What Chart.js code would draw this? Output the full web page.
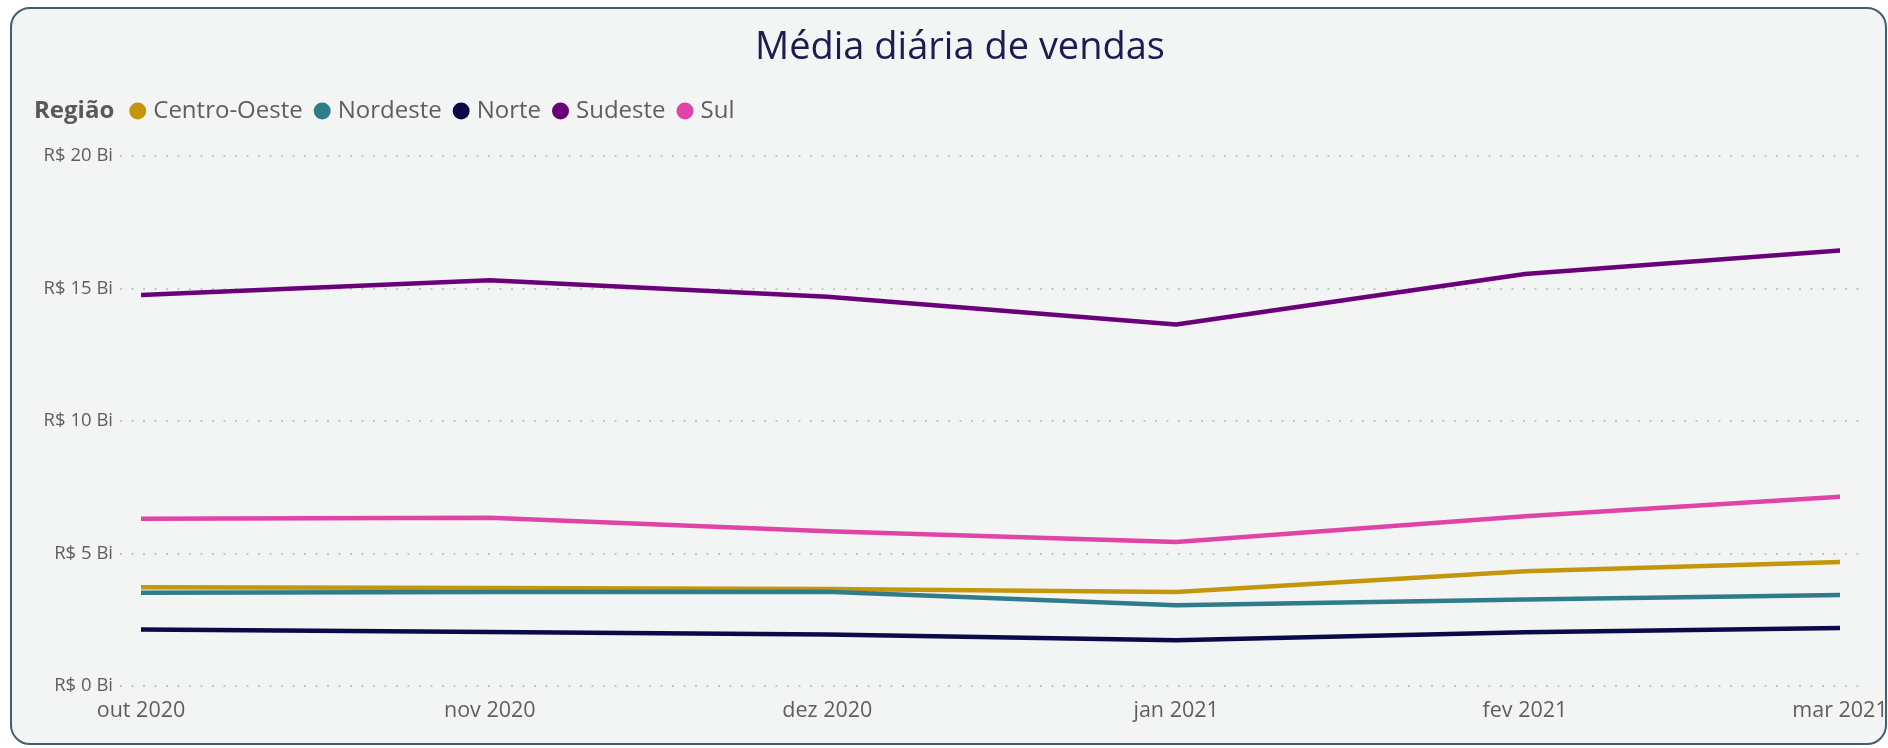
<!DOCTYPE html>
<html><head><meta charset="utf-8">
<script src="https://cdn.jsdelivr.net/npm/chart.js@4"></script>
<style>
html,body{margin:0;padding:0;background:#fff;width:1888px;height:748px;overflow:hidden}
#frame{position:absolute;left:10px;top:7px;width:1877px;height:738px;box-sizing:border-box;border:2.5px solid #40616a;border-radius:20px;background:#f3f4f4}
#c{position:absolute;left:0;top:0}
</style></head><body>
<div id="frame"></div>
<canvas id="c" width="1888" height="748"></canvas>
<script>
const chartTitle = 'Média diária de vendas';
const legendTitle = 'Região';
const months = ['out 2020','nov 2020','dez 2020','jan 2021','fev 2021','mar 2021'];
const monthStarts = ['2020-10-01','2020-11-01','2020-12-01','2021-01-01','2021-02-01','2021-03-01'];
const regions = ['Centro-Oeste','Nordeste','Norte','Sudeste','Sul'];
const colors = ['#c4960c','#2f7c8b','#0b0a48','#6b007b','#e044a7'];
const centroOeste = [3.73, 3.70, 3.66, 3.55, 4.33, 4.68];
const nordeste    = [3.52, 3.55, 3.56, 3.05, 3.26, 3.43];
const norte       = [2.13, 2.04, 1.94, 1.73, 2.03, 2.19];
const sudeste     = [14.75, 15.31, 14.69, 13.64, 15.55, 16.43];
const sul         = [6.31, 6.35, 5.84, 5.43, 6.41, 7.14];
const yTicks = [0, 5, 10, 15, 20];
const yTickLabels = ['R$ 0 Bi','R$ 5 Bi','R$ 10 Bi','R$ 15 Bi','R$ 20 Bi'];

const seriesValues = [centroOeste, nordeste, norte, sudeste, sul];
const dayOffsets = monthStarts.map(d => Math.round((Date.parse(d) - Date.parse(monthStarts[0])) / 86400000));
const FONT = '"Open Sans", "Noto Sans", sans-serif';

const gridPlugin = {
  id: 'dottedGrid',
  beforeDatasetsDraw(chart) {
    const ctx = chart.ctx, y = chart.scales.y;
    ctx.save();
    ctx.strokeStyle = '#c6c8c8';
    ctx.lineWidth = 2;
    ctx.setLineDash([2, 9.5]);
    yTicks.forEach(v => {
      const py = Math.round(y.getPixelForValue(v));
      ctx.beginPath();
      ctx.moveTo(120, py);
      ctx.lineTo(1864, py);
      ctx.stroke();
    });
    ctx.restore();
  }
};

const headerPlugin = {
  id: 'header',
  afterDraw(chart) {
    const ctx = chart.ctx;
    ctx.save();
    ctx.textBaseline = 'middle';
    ctx.textAlign = 'center';
    ctx.fillStyle = '#1b1d52';
    ctx.font = '38px ' + FONT;
    ctx.fillText(chartTitle, 960, 48);
    ctx.textAlign = 'left';
    const y = 111;
    const r = 8.5;
    let x = 34;
    ctx.font = 'bold 24px ' + FONT;
    ctx.fillStyle = '#595959';
    ctx.fillText(legendTitle, x, y);
    x += ctx.measureText(legendTitle).width + 15;
    ctx.font = '24px ' + FONT;
    chart.data.datasets.forEach(ds => {
      ctx.fillStyle = ds.borderColor;
      ctx.beginPath();
      ctx.arc(x + r, y, r, 0, Math.PI * 2);
      ctx.fill();
      x += r + 15.5;
      ctx.fillStyle = '#605e5c';
      ctx.fillText(ds.label, x, y);
      x += ctx.measureText(ds.label).width + 11;
    });
    ctx.restore();
  }
};

new Chart(document.getElementById('c'), {
  type: 'line',
  data: {
    datasets: regions.map((r, i) => ({
      label: r,
      data: seriesValues[i].map((v, j) => ({ x: dayOffsets[j], y: v })),
      borderColor: colors[i],
      backgroundColor: colors[i],
      borderWidth: 4.5,
      pointRadius: 0,
      pointHoverRadius: 0,
      tension: 0,
      borderCapStyle: 'round',
      borderJoinStyle: 'round',
      order: regions.length - i
    }))
  },
  options: {
    responsive: false,
    animation: false,
    events: [],
    layout: { padding: { left: 0, right: 48, top: 156, bottom: 26 } },
    plugins: { legend: { display: false }, title: { display: false }, tooltip: { enabled: false } },
    scales: {
      x: {
        type: 'linear',
        min: dayOffsets[0], max: dayOffsets[dayOffsets.length - 1],
        afterBuildTicks: s => { s.ticks = dayOffsets.map(v => ({ value: v })); },
        grid: { display: false, drawTicks: false },
        border: { display: false },
        ticks: {
          color: '#605e5c', font: { family: FONT, size: 21.5 }, padding: 12, maxRotation: 0, autoSkip: false,
          callback: (v) => months[dayOffsets.indexOf(v)]
        },
        afterFit: s => { s.height = 36; s.paddingLeft = 0; s.paddingRight = 0; }
      },
      y: {
        min: 0, max: 20,
        afterBuildTicks: s => { s.ticks = yTicks.map(v => ({ value: v })); },
        grid: { display: false, drawTicks: false },
        border: { display: false },
        ticks: {
          color: '#605e5c', font: { family: FONT, size: 18.5 }, padding: 28,
          callback: (v) => yTickLabels[yTicks.indexOf(v)]
        },
        afterFit: s => { s.width = 141; }
      }
    }
  },
  plugins: [gridPlugin, headerPlugin]
});
</script>
</body></html>
